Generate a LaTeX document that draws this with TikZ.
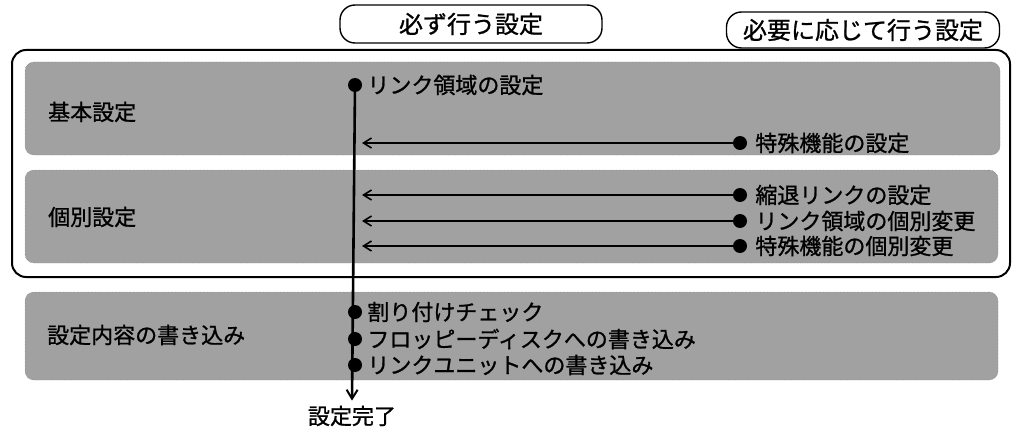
\documentclass[tikz,border=0pt]{standalone}
\usepackage{fontspec}
\newfontfamily\jpfont[FakeBold=1]{Noto Sans CJK JP}
\usetikzlibrary{arrows.meta, positioning}

\begin{document}
\begin{tikzpicture}[
    x=1pt, y=-1pt,
    font=\jpfont,
    frame/.style={rectangle, rounded corners=14pt, draw=black, line width=2pt},
    band/.style={rectangle, rounded corners=9pt, fill=black!37, draw=black!60, densely dotted},
    head/.style={rectangle, rounded corners=15pt, draw=black, line width=1.4pt,
      font=\jpfont\fontsize{24}{26}\selectfont, inner sep=0pt},
    grouplbl/.style={anchor=west, inner sep=0pt, font=\jpfont\fontsize{22}{24}\selectfont},
    item/.style={anchor=west, inner sep=0pt, xshift=5pt, font=\jpfont\fontsize{22}{24}\selectfont},
    dot/.style={circle, fill=black, inner sep=0pt, minimum size=14pt},
    flow/.style={-{Straight Barb[length=9pt, width=11pt, line width=2pt]}, line width=2.6pt},
    back/.style={-{Straight Barb[length=8pt, width=10pt, line width=1.6pt]}, line width=1.8pt, shorten >=7pt},
  ]
  \useasboundingbox (0,0) rectangle (1014,433);

  % column headers
  \node[head, minimum width=262pt, minimum height=38pt] (must) at (471,24) {必ず行う設定};
  \node[head, minimum width=273pt, minimum height=36pt] (opt)  at (863,30) {必要に応じて行う設定};

  \node[frame, minimum width=998pt, minimum height=227pt] (outer) at (511,163.5) {};

  % groups
  \node[band, minimum width=975pt, minimum height=93pt] (basic) at (512.5,108.5) {};
  \node[band, minimum width=973pt, minimum height=93pt] (indiv) at (511.5,216.5) {};
  \node[band, minimum width=973pt, minimum height=88pt] (write) at (511.5,336) {};

  \node[grouplbl] (basiclbl) at (48,112) {基本設定};
  \node[grouplbl] (indivlbl) at (48,217) {個別設定};
  \node[grouplbl] (writelbl) at (47,335) {設定内容の書き込み};

  % required steps
  \node[dot] (link) at (355,85)  {};
  \node[dot] (chk)  at (355,312) {};
  \node[dot] (fd)   at (355,339) {};
  \node[dot] (unit) at (355,365) {};
  \node[item] at (link.east) {リンク領域の設定};
  \node[item] at (chk.east)  {割り付けチェック};
  \node[item] at (fd.east)   {フロッピーディスクへの書き込み};
  \node[item] at (unit.east) {リンクユニットへの書き込み};

  \node[font=\jpfont\fontsize{22}{24}\selectfont, inner sep=0pt] (done) at (352,416) {設定完了};
  \draw[flow] (link.center) -- ([yshift=5pt]done.north);

  % optional steps
  \node[dot] (spec)    at (740,143) {};
  \node[dot] (degr)    at (740,195) {};
  \node[dot] (linkind) at (740,221) {};
  \node[dot] (specind) at (740,246) {};
  \node[item, xshift=3pt] at (spec.east)    {特殊機能の設定};
  \node[item, xshift=3pt] at (degr.east)    {縮退リンクの設定};
  \node[item, xshift=3pt] at (linkind.east) {リンク領域の個別変更};
  \node[item, xshift=3pt] at (specind.east) {特殊機能の個別変更};

  \foreach \s in {spec, degr, linkind, specind}
    \draw[back] (\s.center) -- (\s.center -| link.center);
\end{tikzpicture}
\end{document}
